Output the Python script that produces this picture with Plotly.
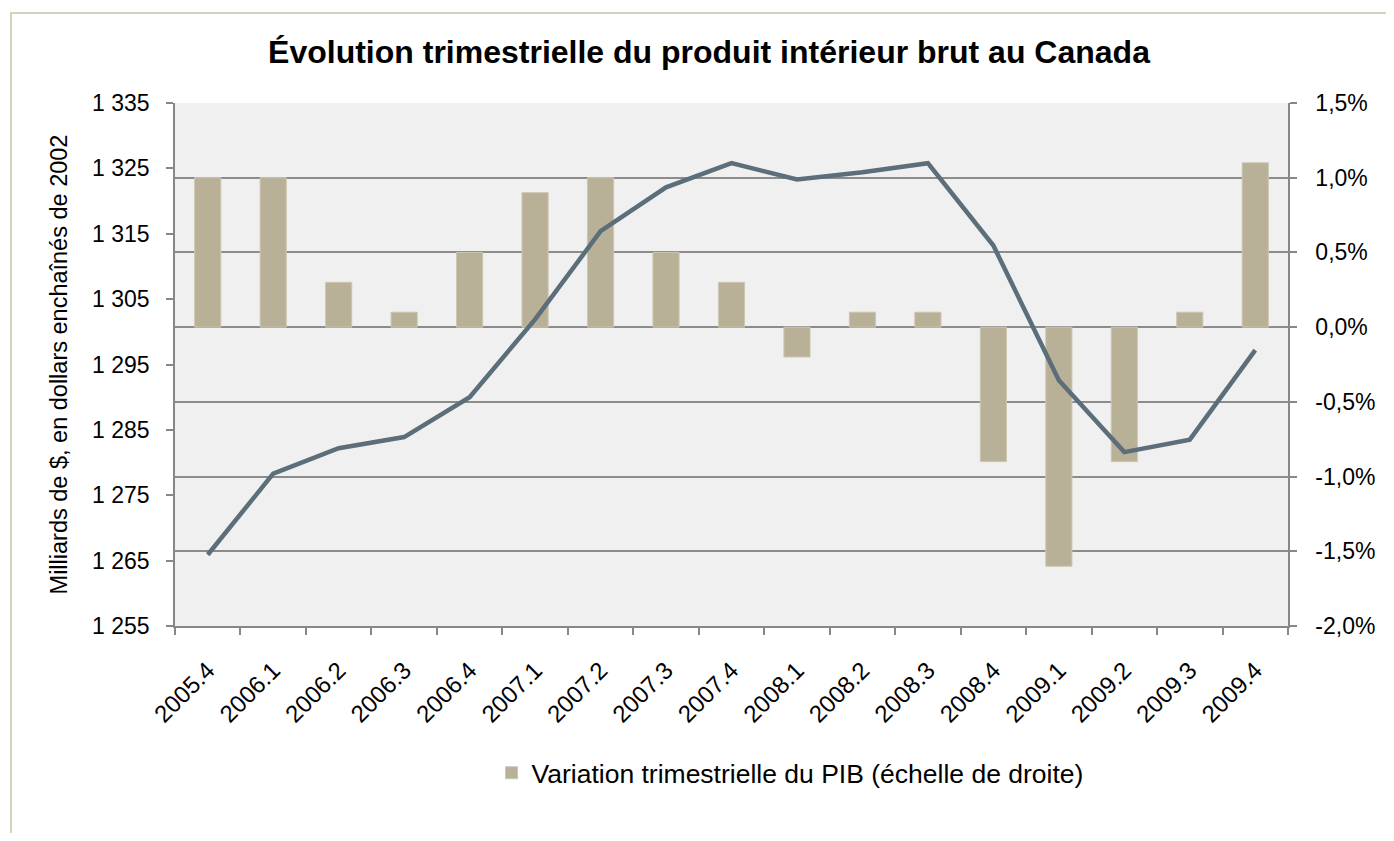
import plotly.graph_objects as go

quarters = ["2005.4", "2006.1", "2006.2", "2006.3", "2006.4", "2007.1", "2007.2",
            "2007.3", "2007.4", "2008.1", "2008.2", "2008.3", "2008.4", "2009.1",
            "2009.2", "2009.3", "2009.4"]
pib_variation_pct = [1.0, 1.0, 0.3, 0.1, 0.5, 0.9, 1.0, 0.5, 0.3, -0.2, 0.1, 0.1,
                     -0.9, -1.6, -0.9, 0.1, 1.1]
pib_milliards = [1265.9, 1278.3, 1282.2, 1283.9, 1290.0, 1301.9, 1315.4, 1322.1,
                 1325.8, 1323.3, 1324.4, 1325.8, 1313.2, 1292.6, 1281.6, 1283.5, 1297.2]

left_ticks = [1255, 1265, 1275, 1285, 1295, 1305, 1315, 1325, 1335]
right_ticks = [-2.0, -1.5, -1.0, -0.5, 0.0, 0.5, 1.0, 1.5]
right_ticklabels = [f"{v:.1f}".replace(".", ",") + "%" for v in right_ticks]

# the page body adds an 8px margin around the figure
OFF = 8
W, H = 1394 - 2 * OFF, 841 - 2 * OFF
# plot area in screen pixels: x 175..1288, y 103..626
ML, MT = 175 - OFF, 103 - OFF
MR = W - (1288 - OFF)
MB = H - (626 - OFF)
pw = W - ML - MR
ph = H - MT - MB

def px_x(sx):
    return (sx - OFF - ML) / pw

def px_y(sy):
    return (H - MB - (sy - OFF)) / ph

FONT = "Liberation Sans, Arial, sans-serif"
AXIS_COL = "#878787"

fig = go.Figure()
fig.add_trace(go.Bar(
    x=quarters, y=pib_variation_pct, yaxis="y",
    name="Variation trimestrielle du PIB (échelle de droite)",
    marker=dict(color="#b8b097", line=dict(color="#cdc7b2", width=1)),
    width=0.4, showlegend=True,
))
fig.add_trace(go.Scatter(
    x=quarters, y=pib_milliards, yaxis="y2", mode="lines",
    name="PIB réel", line=dict(color="#5b6e7a", width=4.5),
    showlegend=False,
))

fig.update_layout(
    width=W, height=H,
    margin=dict(l=ML, r=MR, t=MT, b=MB),
    paper_bgcolor="white",
    plot_bgcolor="#f0f0f0",
    separators=", ",
    font=dict(family=FONT, size=23, color="black"),
    title=dict(text="<b>Évolution trimestrielle du produit intérieur brut au Canada</b>",
               x=(709 - OFF) / W, xref="container", xanchor="center",
               y=1 - (52 - OFF) / H, yref="container", yanchor="middle",
               font=dict(family=FONT, size=32, color="black")),
    xaxis=dict(type="category", tickangle=-45, tickson="boundaries",
               ticks="outside", ticklen=7, tickcolor=AXIS_COL, tickwidth=1.5,
               showline=True, linecolor=AXIS_COL, linewidth=1.5,
               showgrid=False, tickfont=dict(size=24), ticklabelstandoff=19),
    yaxis=dict(side="right", range=[-2.0, 1.5], tickvals=right_ticks,
               ticktext=right_ticklabels,
               showgrid=True, gridcolor="#8c8c8c", gridwidth=1.5,
               zeroline=True, zerolinecolor="#8c8c8c", zerolinewidth=1.5,
               ticks="outside", ticklen=7, tickcolor=AXIS_COL, tickwidth=1.5,
               showline=True, linecolor=AXIS_COL, linewidth=1.5,
               tickfont=dict(size=23), ticklabelstandoff=14),
    yaxis2=dict(side="left", overlaying="y", range=[1255, 1335], tickvals=left_ticks,
                tickformat=",.0f",
                showgrid=False, zeroline=False,
                ticks="outside", ticklen=7, tickcolor=AXIS_COL, tickwidth=1.5,
                showline=True, linecolor=AXIS_COL, linewidth=1.5,
                tickfont=dict(size=23), ticklabelstandoff=12,
                title=dict(text="Milliards de $, en dollars enchaînés de 2002",
                           font=dict(size=23.5), standoff=18)),
    legend=dict(orientation="h", x=px_x(790), xanchor="center",
                y=px_y(773), yanchor="middle", font=dict(size=26.5),
                bgcolor="rgba(0,0,0,0)"),
    bargap=0.6,
    shapes=[dict(type="rect", xref="paper", yref="paper",
                 x0=px_x(11), x1=px_x(1394 + 20), y0=px_y(841 + 20), y1=px_y(13),
                 line=dict(color="#d6d2bd", width=2), fillcolor="rgba(0,0,0,0)",
                 layer="below")],
)

fig.write_html("out.html")
